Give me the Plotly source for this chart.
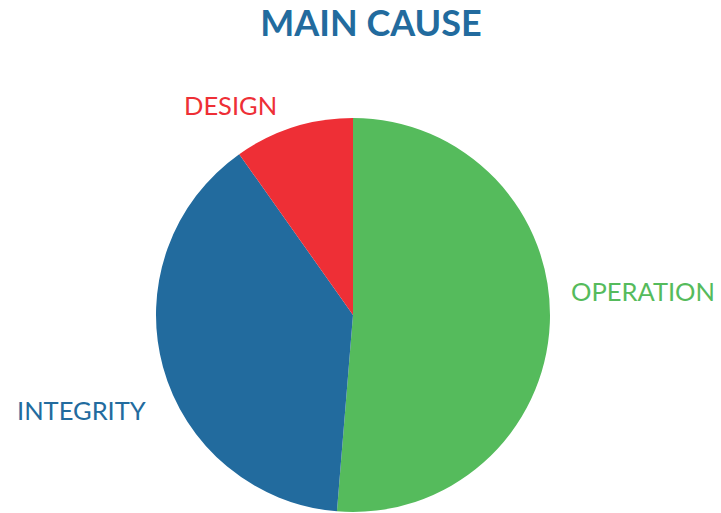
import plotly.graph_objects as go

labels = ["OPERATION", "INTEGRITY", "DESIGN"]
values = [51.3, 38.9, 9.8]
colors = ["#55bb5c", "#226b9e", "#ee2f36"]
label_pos = [(0.892, 0.433), (0.113, 0.201), (0.320, 0.796)]

fig = go.Figure(go.Pie(
    labels=labels, values=values, sort=False, direction="clockwise", rotation=0,
    marker=dict(colors=colors, line=dict(width=0)),
    textinfo="none", hoverinfo="label+percent", showlegend=False,
    domain=dict(x=[156/721, 550/721], y=[1-512/513, 1-118/513]),
))

for lab, col, (x, y) in zip(labels, colors, label_pos):
    fig.add_annotation(text=lab, x=x, y=y, xref="paper", yref="paper",
                       xanchor="center", yanchor="middle", showarrow=False,
                       font=dict(family="Lato", size=25.5, color=col))

fig.update_layout(
    width=721, height=513,
    margin=dict(l=0, r=0, t=0, b=0),
    paper_bgcolor="white", plot_bgcolor="white",
    title=dict(text="<b>MAIN CAUSE</b>", x=371/721, xanchor="center", y=1-23/513, yanchor="middle",
               font=dict(family="Lato", size=36, color="#226b9e")),
)

fig.write_html("out.html")
